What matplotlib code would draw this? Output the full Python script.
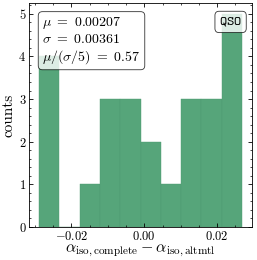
import numpy as np
import matplotlib
matplotlib.use("Agg")
import matplotlib.pyplot as plt
from matplotlib.ticker import MultipleLocator

# histogram (10 bins, 25 entries)
bin_edges = [-0.02883, -0.02327, -0.01770, -0.01214, -0.00658, -0.00101,
             0.00455, 0.01011, 0.01568, 0.02124, 0.02680]
counts = [4, 0, 1, 3, 3, 2, 1, 3, 3, 5]
stats_lines = [r"$\mu\ =\ 0.00207$", r"$\sigma\ =\ 0.00361$", r"$\mu/(\sigma/5)\ =\ 0.57$"]
tracer = "QSO"

plt.rcParams.update({
    "font.family": "serif",
    "font.serif": ["cmr10", "DejaVu Serif"],
    "mathtext.fontset": "cm",
    "axes.formatter.use_mathtext": True,
    "axes.unicode_minus": True,
    "axes.linewidth": 0.6,
    "xtick.direction": "in",
    "ytick.direction": "in",
    "xtick.top": True,
    "ytick.right": True,
    "xtick.major.size": 3,
    "ytick.major.size": 3,
    "xtick.minor.size": 1.5,
    "ytick.minor.size": 1.5,
    "xtick.major.width": 0.6,
    "ytick.major.width": 0.6,
    "xtick.minor.width": 0.5,
    "ytick.minor.width": 0.5,
})

fig = plt.figure(figsize=(2.57, 2.60), dpi=100)
ax = fig.add_axes([0.113, 0.127, 0.868, 0.861])

centers = 0.5 * (np.array(bin_edges[:-1]) + np.array(bin_edges[1:]))
ax.hist(centers, bins=bin_edges, weights=counts, color="#56A57A",
        edgecolor="#4F9A71", linewidth=0.3)

ax.xaxis.set_major_locator(MultipleLocator(0.02))
ax.xaxis.set_minor_locator(MultipleLocator(0.005))
ax.yaxis.set_major_locator(MultipleLocator(1))
ax.yaxis.set_minor_locator(MultipleLocator(0.2))
ax.tick_params(labelsize=9, pad=2)

ax.set_xlabel(r"$\alpha_{\rm iso,complete} - \alpha_{\rm iso,altmtl}$", fontsize=11.5, labelpad=0)
ax.set_ylabel("counts", fontsize=11, labelpad=2)

ax.text(0.06, 0.945, "\n".join(stats_lines), transform=ax.transAxes,
        fontsize=10, va="top", ha="left", linespacing=1.15,
        bbox=dict(boxstyle="round,pad=0.3", facecolor="white", edgecolor="black",
                  linewidth=0.6, alpha=0.8))
ax.text(0.955, 0.945, r"$\mathtt{" + tracer + "}$", transform=ax.transAxes,
        fontsize=10, va="top", ha="right",
        bbox=dict(boxstyle="round,pad=0.3", facecolor="white", edgecolor="black",
                  linewidth=0.6, alpha=0.8))

fig.savefig("out.png", dpi=100)
